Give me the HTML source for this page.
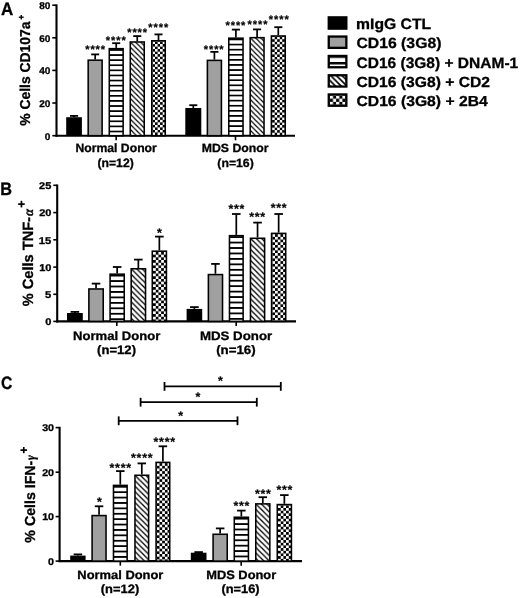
<!DOCTYPE html>
<html><head><meta charset="utf-8"><style>html,body{margin:0;padding:0;background:#fff;width:520px;height:598px;overflow:hidden}</style></head><body><svg width="520" height="598" viewBox="0 0 520 598" style="display:block;filter:grayscale(1)" text-rendering="geometricPrecision"><defs><pattern id="p1" patternUnits="userSpaceOnUse" x="110.05" y="49.12" width="40" height="5.096"><rect width="40" height="5.096" fill="#fff"/><rect width="40" height="1.683" fill="#000"/></pattern><pattern id="p2" patternUnits="userSpaceOnUse" x="131.05" y="42.75" width="5.143" height="5.143"><rect width="5.143" height="5.143" fill="#fff"/><path d="M-1,-1 L6.143,6.143 M-6.143,-1 L1,6.143 M4.143,-1 L11.285,6.143" stroke="#000" stroke-width="1.216"/></pattern><pattern id="p3" patternUnits="userSpaceOnUse" x="152.55" y="41.55" width="5.049" height="5.049"><rect width="5.049" height="5.049" fill="#fff"/><rect x="2.525" width="2.525" height="2.525" fill="#000"/><rect y="2.525" width="2.525" height="2.525" fill="#000"/></pattern><pattern id="p4" patternUnits="userSpaceOnUse" x="229.55" y="38.62" width="40" height="5.096"><rect width="40" height="5.096" fill="#fff"/><rect width="40" height="1.683" fill="#000"/></pattern><pattern id="p5" patternUnits="userSpaceOnUse" x="250.95" y="38.45" width="5.143" height="5.143"><rect width="5.143" height="5.143" fill="#fff"/><path d="M-1,-1 L6.143,6.143 M-6.143,-1 L1,6.143 M4.143,-1 L11.285,6.143" stroke="#000" stroke-width="1.216"/></pattern><pattern id="p6" patternUnits="userSpaceOnUse" x="272.15" y="36.75" width="5.049" height="5.049"><rect width="5.049" height="5.049" fill="#fff"/><rect x="2.525" width="2.525" height="2.525" fill="#000"/><rect y="2.525" width="2.525" height="2.525" fill="#000"/></pattern><pattern id="p7" patternUnits="userSpaceOnUse" x="110.85" y="274.70" width="40" height="5.450"><rect width="40" height="5.450" fill="#fff"/><rect width="40" height="1.800" fill="#000"/></pattern><pattern id="p8" patternUnits="userSpaceOnUse" x="131.95" y="269.55" width="5.500" height="5.500"><rect width="5.500" height="5.500" fill="#fff"/><path d="M-1,-1 L6.500,6.500 M-6.500,-1 L1,6.500 M4.500,-1 L12.000,6.500" stroke="#000" stroke-width="1.300"/></pattern><pattern id="p9" patternUnits="userSpaceOnUse" x="153.05" y="251.95" width="5.400" height="5.400"><rect width="5.400" height="5.400" fill="#fff"/><rect x="2.700" width="2.700" height="2.700" fill="#000"/><rect y="2.700" width="2.700" height="2.700" fill="#000"/></pattern><pattern id="p10" patternUnits="userSpaceOnUse" x="230.25" y="236.20" width="40" height="5.450"><rect width="40" height="5.450" fill="#fff"/><rect width="40" height="1.800" fill="#000"/></pattern><pattern id="p11" patternUnits="userSpaceOnUse" x="251.25" y="239.05" width="5.500" height="5.500"><rect width="5.500" height="5.500" fill="#fff"/><path d="M-1,-1 L6.500,6.500 M-6.500,-1 L1,6.500 M4.500,-1 L12.000,6.500" stroke="#000" stroke-width="1.300"/></pattern><pattern id="p12" patternUnits="userSpaceOnUse" x="272.35" y="234.15" width="5.400" height="5.400"><rect width="5.400" height="5.400" fill="#fff"/><rect x="2.700" width="2.700" height="2.700" fill="#000"/><rect y="2.700" width="2.700" height="2.700" fill="#000"/></pattern><pattern id="p13" patternUnits="userSpaceOnUse" x="114.25" y="485.89" width="40" height="5.396"><rect width="40" height="5.396" fill="#fff"/><rect width="40" height="1.782" fill="#000"/></pattern><pattern id="p14" patternUnits="userSpaceOnUse" x="135.75" y="476.05" width="5.445" height="5.445"><rect width="5.445" height="5.445" fill="#fff"/><path d="M-1,-1 L6.445,6.445 M-6.445,-1 L1,6.445 M4.445,-1 L11.890,6.445" stroke="#000" stroke-width="1.287"/></pattern><pattern id="p15" patternUnits="userSpaceOnUse" x="156.85" y="463.15" width="5.346" height="5.346"><rect width="5.346" height="5.346" fill="#fff"/><rect x="2.673" width="2.673" height="2.673" fill="#000"/><rect y="2.673" width="2.673" height="2.673" fill="#000"/></pattern><pattern id="p16" patternUnits="userSpaceOnUse" x="235.05" y="517.79" width="40" height="5.396"><rect width="40" height="5.396" fill="#fff"/><rect width="40" height="1.782" fill="#000"/></pattern><pattern id="p17" patternUnits="userSpaceOnUse" x="256.55" y="504.65" width="5.445" height="5.445"><rect width="5.445" height="5.445" fill="#fff"/><path d="M-1,-1 L6.445,6.445 M-6.445,-1 L1,6.445 M4.445,-1 L11.890,6.445" stroke="#000" stroke-width="1.287"/></pattern><pattern id="p18" patternUnits="userSpaceOnUse" x="278.05" y="505.35" width="5.346" height="5.346"><rect width="5.346" height="5.346" fill="#fff"/><rect x="2.673" width="2.673" height="2.673" fill="#000"/><rect y="2.673" width="2.673" height="2.673" fill="#000"/></pattern><pattern id="p19" patternUnits="userSpaceOnUse" x="327.6" y="55.50" width="40" height="6.500"><rect width="40" height="6.500" fill="#fff"/><rect width="40" height="2.400" fill="#000"/></pattern><pattern id="p20" patternUnits="userSpaceOnUse" x="331.50" y="76.40" width="5.700" height="5.700"><rect width="5.700" height="5.700" fill="#fff"/><path d="M-1,-1 L6.700,6.700 M-6.700,-1 L1,6.700 M4.700,-1 L12.400,6.700" stroke="#000" stroke-width="1.650"/></pattern><pattern id="p21" patternUnits="userSpaceOnUse" x="329.90" y="95.60" width="6.240" height="6.240"><rect width="6.240" height="6.240" fill="#fff"/><rect x="3.120" width="3.120" height="3.120" fill="#000"/><rect y="3.120" width="3.120" height="3.120" fill="#000"/></pattern></defs><rect width="520" height="598" fill="#fff"/><text transform="translate(0.93,14.60) scale(0.9503,1.0000)" font-family='"Liberation Sans", sans-serif' font-size="17.826" font-weight="bold" font-style="normal" fill="#000" stroke="#000" stroke-width="0.3">A</text><text transform="translate(0.29,194.50) scale(0.9004,1.0000)" font-family='"Liberation Sans", sans-serif' font-size="18.116" font-weight="bold" font-style="normal" fill="#000" stroke="#000" stroke-width="0.3">B</text><text transform="translate(0.92,388.52) scale(0.8749,1.0000)" font-family='"Liberation Sans", sans-serif' font-size="17.887" font-weight="bold" font-style="normal" fill="#000" stroke="#000" stroke-width="0.3">C</text><line x1="56.50" y1="4.40" x2="56.50" y2="136.70" stroke="#000" stroke-width="2.1"/><line x1="55.50" y1="135.70" x2="295.00" y2="135.70" stroke="#000" stroke-width="2.1"/><line x1="52.30" y1="5.20" x2="56.50" y2="5.20" stroke="#000" stroke-width="1.6"/><text transform="translate(39.14,9.20) scale(1.0200,1.0000)" font-family='"Liberation Sans", sans-serif' font-size="9.859" font-weight="bold" font-style="normal" fill="#000" stroke="#000" stroke-width="0.3">80</text><line x1="52.30" y1="37.80" x2="56.50" y2="37.80" stroke="#000" stroke-width="1.6"/><text transform="translate(39.14,41.80) scale(1.0200,1.0000)" font-family='"Liberation Sans", sans-serif' font-size="9.859" font-weight="bold" font-style="normal" fill="#000" stroke="#000" stroke-width="0.3">60</text><line x1="52.30" y1="70.40" x2="56.50" y2="70.40" stroke="#000" stroke-width="1.6"/><text transform="translate(39.14,74.40) scale(1.0200,1.0000)" font-family='"Liberation Sans", sans-serif' font-size="9.859" font-weight="bold" font-style="normal" fill="#000" stroke="#000" stroke-width="0.3">40</text><line x1="52.30" y1="103.00" x2="56.50" y2="103.00" stroke="#000" stroke-width="1.6"/><text transform="translate(39.14,107.00) scale(1.0200,1.0000)" font-family='"Liberation Sans", sans-serif' font-size="9.859" font-weight="bold" font-style="normal" fill="#000" stroke="#000" stroke-width="0.3">20</text><line x1="52.30" y1="135.70" x2="56.50" y2="135.70" stroke="#000" stroke-width="1.6"/><text transform="translate(44.72,139.70) scale(1.0200,1.0000)" font-family='"Liberation Sans", sans-serif' font-size="9.859" font-weight="bold" font-style="normal" fill="#000" stroke="#000" stroke-width="0.3">0</text><line x1="74.05" y1="117.20" x2="74.05" y2="115.90" stroke="#000" stroke-width="1.7"/><line x1="70.03" y1="115.90" x2="78.07" y2="115.90" stroke="#000" stroke-width="1.8"/><rect x="66.20" y="117.20" width="15.70" height="18.50" fill="#000"/><line x1="95.15" y1="59.40" x2="95.15" y2="54.40" stroke="#000" stroke-width="1.7"/><line x1="91.13" y1="54.40" x2="99.17" y2="54.40" stroke="#000" stroke-width="1.8"/><rect x="88.18" y="60.17" width="13.95" height="75.52" fill="#a0a0a0" stroke="#000" stroke-width="1.55"/><line x1="116.20" y1="47.90" x2="116.20" y2="43.20" stroke="#000" stroke-width="1.7"/><line x1="112.18" y1="43.20" x2="120.22" y2="43.20" stroke="#000" stroke-width="1.8"/><rect x="109.28" y="48.67" width="13.85" height="87.02" fill="url(#p1)" stroke="#000" stroke-width="1.55"/><line x1="137.25" y1="41.20" x2="137.25" y2="36.10" stroke="#000" stroke-width="1.7"/><line x1="133.23" y1="36.10" x2="141.27" y2="36.10" stroke="#000" stroke-width="1.8"/><rect x="130.28" y="41.98" width="13.95" height="93.72" fill="url(#p2)" stroke="#000" stroke-width="1.55"/><line x1="158.50" y1="40.00" x2="158.50" y2="34.40" stroke="#000" stroke-width="1.7"/><line x1="154.48" y1="34.40" x2="162.52" y2="34.40" stroke="#000" stroke-width="1.8"/><rect x="151.78" y="40.77" width="13.45" height="94.92" fill="url(#p3)" stroke="#000" stroke-width="1.55"/><line x1="193.30" y1="108.00" x2="193.30" y2="105.20" stroke="#000" stroke-width="1.7"/><line x1="189.28" y1="105.20" x2="197.32" y2="105.20" stroke="#000" stroke-width="1.8"/><rect x="185.30" y="108.00" width="16.00" height="27.70" fill="#000"/><line x1="214.40" y1="59.60" x2="214.40" y2="51.85" stroke="#000" stroke-width="1.7"/><line x1="210.38" y1="51.85" x2="218.42" y2="51.85" stroke="#000" stroke-width="1.8"/><rect x="207.38" y="60.38" width="14.05" height="75.32" fill="#a0a0a0" stroke="#000" stroke-width="1.55"/><line x1="235.90" y1="37.40" x2="235.90" y2="29.60" stroke="#000" stroke-width="1.7"/><line x1="231.88" y1="29.60" x2="239.92" y2="29.60" stroke="#000" stroke-width="1.8"/><rect x="228.78" y="38.17" width="14.25" height="97.52" fill="url(#p4)" stroke="#000" stroke-width="1.55"/><line x1="257.10" y1="36.90" x2="257.10" y2="29.40" stroke="#000" stroke-width="1.7"/><line x1="253.08" y1="29.40" x2="261.12" y2="29.40" stroke="#000" stroke-width="1.8"/><rect x="250.18" y="37.67" width="13.85" height="98.02" fill="url(#p5)" stroke="#000" stroke-width="1.55"/><line x1="278.30" y1="35.20" x2="278.30" y2="27.20" stroke="#000" stroke-width="1.7"/><line x1="274.28" y1="27.20" x2="282.32" y2="27.20" stroke="#000" stroke-width="1.8"/><rect x="271.38" y="35.98" width="13.85" height="99.72" fill="url(#p6)" stroke="#000" stroke-width="1.55"/><text x="85.21" y="53.01" font-family='"Liberation Sans", sans-serif' font-size="11.00" font-weight="bold" fill="#000" stroke="#000" stroke-width="0.2">*</text><text x="90.41" y="53.01" font-family='"Liberation Sans", sans-serif' font-size="11.00" font-weight="bold" fill="#000" stroke="#000" stroke-width="0.2">*</text><text x="95.61" y="53.01" font-family='"Liberation Sans", sans-serif' font-size="11.00" font-weight="bold" fill="#000" stroke="#000" stroke-width="0.2">*</text><text x="100.81" y="53.01" font-family='"Liberation Sans", sans-serif' font-size="11.00" font-weight="bold" fill="#000" stroke="#000" stroke-width="0.2">*</text><text x="105.86" y="43.95" font-family='"Liberation Sans", sans-serif' font-size="11.00" font-weight="bold" fill="#000" stroke="#000" stroke-width="0.2">*</text><text x="111.06" y="43.95" font-family='"Liberation Sans", sans-serif' font-size="11.00" font-weight="bold" fill="#000" stroke="#000" stroke-width="0.2">*</text><text x="116.26" y="43.95" font-family='"Liberation Sans", sans-serif' font-size="11.00" font-weight="bold" fill="#000" stroke="#000" stroke-width="0.2">*</text><text x="121.45" y="43.95" font-family='"Liberation Sans", sans-serif' font-size="11.00" font-weight="bold" fill="#000" stroke="#000" stroke-width="0.2">*</text><text x="127.20" y="35.66" font-family='"Liberation Sans", sans-serif' font-size="11.00" font-weight="bold" fill="#000" stroke="#000" stroke-width="0.2">*</text><text x="132.40" y="35.66" font-family='"Liberation Sans", sans-serif' font-size="11.00" font-weight="bold" fill="#000" stroke="#000" stroke-width="0.2">*</text><text x="137.60" y="35.66" font-family='"Liberation Sans", sans-serif' font-size="11.00" font-weight="bold" fill="#000" stroke="#000" stroke-width="0.2">*</text><text x="142.80" y="35.66" font-family='"Liberation Sans", sans-serif' font-size="11.00" font-weight="bold" fill="#000" stroke="#000" stroke-width="0.2">*</text><text x="148.30" y="31.11" font-family='"Liberation Sans", sans-serif' font-size="11.00" font-weight="bold" fill="#000" stroke="#000" stroke-width="0.2">*</text><text x="153.50" y="31.11" font-family='"Liberation Sans", sans-serif' font-size="11.00" font-weight="bold" fill="#000" stroke="#000" stroke-width="0.2">*</text><text x="158.70" y="31.11" font-family='"Liberation Sans", sans-serif' font-size="11.00" font-weight="bold" fill="#000" stroke="#000" stroke-width="0.2">*</text><text x="163.90" y="31.11" font-family='"Liberation Sans", sans-serif' font-size="11.00" font-weight="bold" fill="#000" stroke="#000" stroke-width="0.2">*</text><text x="203.75" y="52.60" font-family='"Liberation Sans", sans-serif' font-size="11.00" font-weight="bold" fill="#000" stroke="#000" stroke-width="0.2">*</text><text x="208.95" y="52.60" font-family='"Liberation Sans", sans-serif' font-size="11.00" font-weight="bold" fill="#000" stroke="#000" stroke-width="0.2">*</text><text x="214.15" y="52.60" font-family='"Liberation Sans", sans-serif' font-size="11.00" font-weight="bold" fill="#000" stroke="#000" stroke-width="0.2">*</text><text x="219.35" y="52.60" font-family='"Liberation Sans", sans-serif' font-size="11.00" font-weight="bold" fill="#000" stroke="#000" stroke-width="0.2">*</text><text x="225.50" y="28.86" font-family='"Liberation Sans", sans-serif' font-size="11.00" font-weight="bold" fill="#000" stroke="#000" stroke-width="0.2">*</text><text x="230.70" y="28.86" font-family='"Liberation Sans", sans-serif' font-size="11.00" font-weight="bold" fill="#000" stroke="#000" stroke-width="0.2">*</text><text x="235.90" y="28.86" font-family='"Liberation Sans", sans-serif' font-size="11.00" font-weight="bold" fill="#000" stroke="#000" stroke-width="0.2">*</text><text x="241.10" y="28.86" font-family='"Liberation Sans", sans-serif' font-size="11.00" font-weight="bold" fill="#000" stroke="#000" stroke-width="0.2">*</text><text x="247.60" y="27.66" font-family='"Liberation Sans", sans-serif' font-size="11.00" font-weight="bold" fill="#000" stroke="#000" stroke-width="0.2">*</text><text x="252.80" y="27.66" font-family='"Liberation Sans", sans-serif' font-size="11.00" font-weight="bold" fill="#000" stroke="#000" stroke-width="0.2">*</text><text x="258.00" y="27.66" font-family='"Liberation Sans", sans-serif' font-size="11.00" font-weight="bold" fill="#000" stroke="#000" stroke-width="0.2">*</text><text x="263.21" y="27.66" font-family='"Liberation Sans", sans-serif' font-size="11.00" font-weight="bold" fill="#000" stroke="#000" stroke-width="0.2">*</text><text x="268.86" y="23.05" font-family='"Liberation Sans", sans-serif' font-size="11.00" font-weight="bold" fill="#000" stroke="#000" stroke-width="0.2">*</text><text x="274.06" y="23.05" font-family='"Liberation Sans", sans-serif' font-size="11.00" font-weight="bold" fill="#000" stroke="#000" stroke-width="0.2">*</text><text x="279.25" y="23.05" font-family='"Liberation Sans", sans-serif' font-size="11.00" font-weight="bold" fill="#000" stroke="#000" stroke-width="0.2">*</text><text x="284.46" y="23.05" font-family='"Liberation Sans", sans-serif' font-size="11.00" font-weight="bold" fill="#000" stroke="#000" stroke-width="0.2">*</text><line x1="116.20" y1="135.70" x2="116.20" y2="140.30" stroke="#000" stroke-width="1.6"/><line x1="235.50" y1="135.70" x2="235.50" y2="140.30" stroke="#000" stroke-width="1.6"/><text transform="translate(75.46,152.35) scale(1.0034,1.0000)" font-family='"Liberation Sans", sans-serif' font-size="12.174" font-weight="bold" font-style="normal" fill="#000" stroke="#000" stroke-width="0.3">Normal Donor</text><text transform="translate(97.48,167.10) scale(1.0034,1.0000)" font-family='"Liberation Sans", sans-serif' font-size="12.174" font-weight="bold" font-style="normal" fill="#000" stroke="#000" stroke-width="0.3">(n=12)</text><text transform="translate(201.75,152.35) scale(1.0320,1.0000)" font-family='"Liberation Sans", sans-serif' font-size="11.884" font-weight="bold" font-style="normal" fill="#000" stroke="#000" stroke-width="0.3">MDS Donor</text><text transform="translate(217.31,167.10) scale(1.0320,1.0000)" font-family='"Liberation Sans", sans-serif' font-size="11.884" font-weight="bold" font-style="normal" fill="#000" stroke="#000" stroke-width="0.3">(n=16)</text><text transform="translate(30.46,125.85) rotate(-90) scale(1.0000,1.0317)" font-family='"Liberation Sans", sans-serif' font-size="13.925" font-weight="bold" font-style="normal" fill="#000" stroke="#000" stroke-width="0.3">% Cells CD107a</text><line x1="18.80" y1="17.20" x2="23.70" y2="17.20" stroke="#000" stroke-width="1.35"/><line x1="21.25" y1="15.00" x2="21.25" y2="19.40" stroke="#000" stroke-width="1.35"/><line x1="57.20" y1="184.50" x2="57.20" y2="322.40" stroke="#000" stroke-width="2.1"/><line x1="56.20" y1="321.40" x2="296.00" y2="321.40" stroke="#000" stroke-width="2.1"/><line x1="53.30" y1="185.30" x2="57.20" y2="185.30" stroke="#000" stroke-width="1.6"/><text transform="translate(39.02,189.00) scale(1.1200,1.0000)" font-family='"Liberation Sans", sans-serif' font-size="9.859" font-weight="bold" font-style="normal" fill="#000" stroke="#000" stroke-width="0.3">25</text><line x1="53.30" y1="212.60" x2="57.20" y2="212.60" stroke="#000" stroke-width="1.6"/><text transform="translate(39.18,216.30) scale(1.1200,1.0000)" font-family='"Liberation Sans", sans-serif' font-size="9.859" font-weight="bold" font-style="normal" fill="#000" stroke="#000" stroke-width="0.3">20</text><line x1="53.30" y1="239.80" x2="57.20" y2="239.80" stroke="#000" stroke-width="1.6"/><text transform="translate(38.85,243.50) scale(1.1200,1.0000)" font-family='"Liberation Sans", sans-serif' font-size="10.000" font-weight="bold" font-style="normal" fill="#000" stroke="#000" stroke-width="0.3">15</text><line x1="53.30" y1="267.10" x2="57.20" y2="267.10" stroke="#000" stroke-width="1.6"/><text transform="translate(39.18,270.80) scale(1.1200,1.0000)" font-family='"Liberation Sans", sans-serif' font-size="9.859" font-weight="bold" font-style="normal" fill="#000" stroke="#000" stroke-width="0.3">10</text><line x1="53.30" y1="294.30" x2="57.20" y2="294.30" stroke="#000" stroke-width="1.6"/><text transform="translate(45.06,298.00) scale(1.1200,1.0000)" font-family='"Liberation Sans", sans-serif' font-size="10.000" font-weight="bold" font-style="normal" fill="#000" stroke="#000" stroke-width="0.3">5</text><line x1="53.30" y1="321.40" x2="57.20" y2="321.40" stroke="#000" stroke-width="1.6"/><text transform="translate(45.31,325.10) scale(1.1200,1.0000)" font-family='"Liberation Sans", sans-serif' font-size="9.859" font-weight="bold" font-style="normal" fill="#000" stroke="#000" stroke-width="0.3">0</text><line x1="74.90" y1="313.00" x2="74.90" y2="311.90" stroke="#000" stroke-width="1.7"/><line x1="70.60" y1="311.90" x2="79.20" y2="311.90" stroke="#000" stroke-width="1.8"/><rect x="67.00" y="313.00" width="15.80" height="8.40" fill="#000"/><line x1="96.05" y1="288.20" x2="96.05" y2="283.60" stroke="#000" stroke-width="1.7"/><line x1="91.75" y1="283.60" x2="100.35" y2="283.60" stroke="#000" stroke-width="1.8"/><rect x="88.88" y="288.97" width="14.35" height="32.42" fill="#a0a0a0" stroke="#000" stroke-width="1.55"/><line x1="117.15" y1="273.40" x2="117.15" y2="267.00" stroke="#000" stroke-width="1.7"/><line x1="112.85" y1="267.00" x2="121.45" y2="267.00" stroke="#000" stroke-width="1.8"/><rect x="110.08" y="274.17" width="14.15" height="47.23" fill="url(#p7)" stroke="#000" stroke-width="1.55"/><line x1="138.35" y1="268.00" x2="138.35" y2="259.60" stroke="#000" stroke-width="1.7"/><line x1="134.05" y1="259.60" x2="142.65" y2="259.60" stroke="#000" stroke-width="1.8"/><rect x="131.18" y="268.77" width="14.35" height="52.62" fill="url(#p8)" stroke="#000" stroke-width="1.55"/><line x1="159.35" y1="250.40" x2="159.35" y2="236.60" stroke="#000" stroke-width="1.7"/><line x1="155.05" y1="236.60" x2="163.65" y2="236.60" stroke="#000" stroke-width="1.8"/><rect x="152.28" y="251.18" width="14.15" height="70.22" fill="url(#p9)" stroke="#000" stroke-width="1.55"/><line x1="194.40" y1="308.90" x2="194.40" y2="307.10" stroke="#000" stroke-width="1.7"/><line x1="190.10" y1="307.10" x2="198.70" y2="307.10" stroke="#000" stroke-width="1.8"/><rect x="186.60" y="308.90" width="15.60" height="12.50" fill="#000"/><line x1="215.45" y1="273.80" x2="215.45" y2="263.90" stroke="#000" stroke-width="1.7"/><line x1="211.15" y1="263.90" x2="219.75" y2="263.90" stroke="#000" stroke-width="1.8"/><rect x="208.38" y="274.57" width="14.15" height="46.82" fill="#a0a0a0" stroke="#000" stroke-width="1.55"/><line x1="236.30" y1="234.90" x2="236.30" y2="214.00" stroke="#000" stroke-width="1.7"/><line x1="232.00" y1="214.00" x2="240.60" y2="214.00" stroke="#000" stroke-width="1.8"/><rect x="229.47" y="235.68" width="13.65" height="85.72" fill="url(#p10)" stroke="#000" stroke-width="1.55"/><line x1="257.55" y1="237.50" x2="257.55" y2="222.60" stroke="#000" stroke-width="1.7"/><line x1="253.25" y1="222.60" x2="261.85" y2="222.60" stroke="#000" stroke-width="1.8"/><rect x="250.47" y="238.28" width="14.15" height="83.12" fill="url(#p11)" stroke="#000" stroke-width="1.55"/><line x1="278.65" y1="232.60" x2="278.65" y2="214.00" stroke="#000" stroke-width="1.7"/><line x1="274.35" y1="214.00" x2="282.95" y2="214.00" stroke="#000" stroke-width="1.8"/><rect x="271.57" y="233.38" width="14.15" height="88.02" fill="url(#p12)" stroke="#000" stroke-width="1.55"/><text x="156.98" y="237.06" font-family='"Liberation Sans", sans-serif' font-size="12.40" font-weight="bold" fill="#000" stroke="#000" stroke-width="0.2">*</text><text x="228.58" y="212.71" font-family='"Liberation Sans", sans-serif' font-size="12.40" font-weight="bold" fill="#000" stroke="#000" stroke-width="0.2">*</text><text x="234.08" y="212.71" font-family='"Liberation Sans", sans-serif' font-size="12.40" font-weight="bold" fill="#000" stroke="#000" stroke-width="0.2">*</text><text x="239.58" y="212.71" font-family='"Liberation Sans", sans-serif' font-size="12.40" font-weight="bold" fill="#000" stroke="#000" stroke-width="0.2">*</text><text x="249.33" y="220.86" font-family='"Liberation Sans", sans-serif' font-size="12.40" font-weight="bold" fill="#000" stroke="#000" stroke-width="0.2">*</text><text x="254.83" y="220.86" font-family='"Liberation Sans", sans-serif' font-size="12.40" font-weight="bold" fill="#000" stroke="#000" stroke-width="0.2">*</text><text x="260.33" y="220.86" font-family='"Liberation Sans", sans-serif' font-size="12.40" font-weight="bold" fill="#000" stroke="#000" stroke-width="0.2">*</text><text x="270.68" y="211.61" font-family='"Liberation Sans", sans-serif' font-size="12.40" font-weight="bold" fill="#000" stroke="#000" stroke-width="0.2">*</text><text x="276.18" y="211.61" font-family='"Liberation Sans", sans-serif' font-size="12.40" font-weight="bold" fill="#000" stroke="#000" stroke-width="0.2">*</text><text x="281.68" y="211.61" font-family='"Liberation Sans", sans-serif' font-size="12.40" font-weight="bold" fill="#000" stroke="#000" stroke-width="0.2">*</text><line x1="116.80" y1="321.40" x2="116.80" y2="326.00" stroke="#000" stroke-width="1.6"/><line x1="236.20" y1="321.40" x2="236.20" y2="326.00" stroke="#000" stroke-width="1.6"/><text transform="translate(73.10,339.85) scale(1.0631,1.0000)" font-family='"Liberation Sans", sans-serif' font-size="12.319" font-weight="bold" font-style="normal" fill="#000" stroke="#000" stroke-width="0.3">Normal Donor</text><text transform="translate(97.12,353.90) scale(1.0631,1.0000)" font-family='"Liberation Sans", sans-serif' font-size="12.319" font-weight="bold" font-style="normal" fill="#000" stroke="#000" stroke-width="0.3">(n=12)</text><text transform="translate(199.88,339.85) scale(1.0803,1.0000)" font-family='"Liberation Sans", sans-serif' font-size="12.319" font-weight="bold" font-style="normal" fill="#000" stroke="#000" stroke-width="0.3">MDS Donor</text><text transform="translate(216.15,353.90) scale(1.0803,1.0000)" font-family='"Liberation Sans", sans-serif' font-size="12.319" font-weight="bold" font-style="normal" fill="#000" stroke="#000" stroke-width="0.3">(n=16)</text><text transform="translate(32.55,306.22) rotate(-90) scale(1.0000,1.0127)" font-family='"Liberation Sans", sans-serif' font-size="14.603" font-weight="bold" font-style="normal" fill="#000" stroke="#000" stroke-width="0.3">% Cells TNF-</text><line x1="18.15" y1="204.10" x2="24.75" y2="204.10" stroke="#000" stroke-width="1.7"/><line x1="21.45" y1="200.80" x2="21.45" y2="207.40" stroke="#000" stroke-width="1.7"/><text transform="translate(32.96,215.89) rotate(-90) scale(1.0000,1.0804)" font-family='"Liberation Serif", serif' font-size="12.727" font-weight="bold" font-style="italic" fill="#000" stroke="#000" stroke-width="0.3">α</text><line x1="59.60" y1="426.80" x2="59.60" y2="562.10" stroke="#000" stroke-width="2.1"/><line x1="58.60" y1="561.10" x2="302.00" y2="561.10" stroke="#000" stroke-width="2.1"/><line x1="55.60" y1="427.60" x2="59.60" y2="427.60" stroke="#000" stroke-width="1.6"/><text transform="translate(42.16,431.30) scale(1.1000,1.0000)" font-family='"Liberation Sans", sans-serif' font-size="9.718" font-weight="bold" font-style="normal" fill="#000" stroke="#000" stroke-width="0.3">30</text><line x1="55.60" y1="472.20" x2="59.60" y2="472.20" stroke="#000" stroke-width="1.6"/><text transform="translate(42.16,475.90) scale(1.1000,1.0000)" font-family='"Liberation Sans", sans-serif' font-size="9.718" font-weight="bold" font-style="normal" fill="#000" stroke="#000" stroke-width="0.3">20</text><line x1="55.60" y1="516.60" x2="59.60" y2="516.60" stroke="#000" stroke-width="1.6"/><text transform="translate(42.16,520.30) scale(1.1000,1.0000)" font-family='"Liberation Sans", sans-serif' font-size="9.718" font-weight="bold" font-style="normal" fill="#000" stroke="#000" stroke-width="0.3">10</text><line x1="55.60" y1="561.10" x2="59.60" y2="561.10" stroke="#000" stroke-width="1.6"/><text transform="translate(48.09,564.80) scale(1.1000,1.0000)" font-family='"Liberation Sans", sans-serif' font-size="9.718" font-weight="bold" font-style="normal" fill="#000" stroke="#000" stroke-width="0.3">0</text><line x1="77.90" y1="555.60" x2="77.90" y2="554.40" stroke="#000" stroke-width="1.7"/><line x1="73.64" y1="554.40" x2="82.16" y2="554.40" stroke="#000" stroke-width="1.8"/><rect x="70.20" y="555.60" width="15.40" height="5.50" fill="#000"/><line x1="99.05" y1="514.80" x2="99.05" y2="506.30" stroke="#000" stroke-width="1.7"/><line x1="94.79" y1="506.30" x2="103.31" y2="506.30" stroke="#000" stroke-width="1.8"/><rect x="92.08" y="515.57" width="13.95" height="45.53" fill="#a0a0a0" stroke="#000" stroke-width="1.55"/><line x1="120.30" y1="484.60" x2="120.30" y2="471.10" stroke="#000" stroke-width="1.7"/><line x1="116.04" y1="471.10" x2="124.56" y2="471.10" stroke="#000" stroke-width="1.8"/><rect x="113.48" y="485.38" width="13.65" height="75.72" fill="url(#p13)" stroke="#000" stroke-width="1.55"/><line x1="141.80" y1="474.50" x2="141.80" y2="463.40" stroke="#000" stroke-width="1.7"/><line x1="137.54" y1="463.40" x2="146.06" y2="463.40" stroke="#000" stroke-width="1.8"/><rect x="134.97" y="475.27" width="13.65" height="85.83" fill="url(#p14)" stroke="#000" stroke-width="1.55"/><line x1="162.90" y1="461.60" x2="162.90" y2="446.30" stroke="#000" stroke-width="1.7"/><line x1="158.64" y1="446.30" x2="167.16" y2="446.30" stroke="#000" stroke-width="1.8"/><rect x="156.08" y="462.38" width="13.65" height="98.72" fill="url(#p15)" stroke="#000" stroke-width="1.55"/><line x1="198.65" y1="552.70" x2="198.65" y2="552.10" stroke="#000" stroke-width="1.7"/><line x1="194.39" y1="552.10" x2="202.91" y2="552.10" stroke="#000" stroke-width="1.8"/><rect x="190.80" y="552.70" width="15.70" height="8.40" fill="#000"/><line x1="220.15" y1="533.50" x2="220.15" y2="528.40" stroke="#000" stroke-width="1.7"/><line x1="215.89" y1="528.40" x2="224.41" y2="528.40" stroke="#000" stroke-width="1.8"/><rect x="213.08" y="534.27" width="14.15" height="26.83" fill="#a0a0a0" stroke="#000" stroke-width="1.55"/><line x1="241.35" y1="516.50" x2="241.35" y2="510.60" stroke="#000" stroke-width="1.7"/><line x1="237.09" y1="510.60" x2="245.61" y2="510.60" stroke="#000" stroke-width="1.8"/><rect x="234.28" y="517.27" width="14.15" height="43.83" fill="url(#p16)" stroke="#000" stroke-width="1.55"/><line x1="262.80" y1="503.10" x2="262.80" y2="497.20" stroke="#000" stroke-width="1.7"/><line x1="258.54" y1="497.20" x2="267.06" y2="497.20" stroke="#000" stroke-width="1.8"/><rect x="255.78" y="503.88" width="14.05" height="57.23" fill="url(#p17)" stroke="#000" stroke-width="1.55"/><line x1="284.35" y1="503.80" x2="284.35" y2="495.10" stroke="#000" stroke-width="1.7"/><line x1="280.09" y1="495.10" x2="288.61" y2="495.10" stroke="#000" stroke-width="1.8"/><rect x="277.27" y="504.57" width="14.15" height="56.53" fill="url(#p18)" stroke="#000" stroke-width="1.55"/><text x="96.88" y="506.26" font-family='"Liberation Sans", sans-serif' font-size="12.40" font-weight="bold" fill="#000" stroke="#000" stroke-width="0.2">*</text><text x="109.48" y="471.96" font-family='"Liberation Sans", sans-serif' font-size="12.40" font-weight="bold" fill="#000" stroke="#000" stroke-width="0.2">*</text><text x="115.08" y="471.96" font-family='"Liberation Sans", sans-serif' font-size="12.40" font-weight="bold" fill="#000" stroke="#000" stroke-width="0.2">*</text><text x="120.68" y="471.96" font-family='"Liberation Sans", sans-serif' font-size="12.40" font-weight="bold" fill="#000" stroke="#000" stroke-width="0.2">*</text><text x="126.28" y="471.96" font-family='"Liberation Sans", sans-serif' font-size="12.40" font-weight="bold" fill="#000" stroke="#000" stroke-width="0.2">*</text><text x="130.98" y="461.96" font-family='"Liberation Sans", sans-serif' font-size="12.40" font-weight="bold" fill="#000" stroke="#000" stroke-width="0.2">*</text><text x="136.58" y="461.96" font-family='"Liberation Sans", sans-serif' font-size="12.40" font-weight="bold" fill="#000" stroke="#000" stroke-width="0.2">*</text><text x="142.18" y="461.96" font-family='"Liberation Sans", sans-serif' font-size="12.40" font-weight="bold" fill="#000" stroke="#000" stroke-width="0.2">*</text><text x="147.78" y="461.96" font-family='"Liberation Sans", sans-serif' font-size="12.40" font-weight="bold" fill="#000" stroke="#000" stroke-width="0.2">*</text><text x="153.48" y="446.31" font-family='"Liberation Sans", sans-serif' font-size="12.40" font-weight="bold" fill="#000" stroke="#000" stroke-width="0.2">*</text><text x="159.08" y="446.31" font-family='"Liberation Sans", sans-serif' font-size="12.40" font-weight="bold" fill="#000" stroke="#000" stroke-width="0.2">*</text><text x="164.68" y="446.31" font-family='"Liberation Sans", sans-serif' font-size="12.40" font-weight="bold" fill="#000" stroke="#000" stroke-width="0.2">*</text><text x="170.28" y="446.31" font-family='"Liberation Sans", sans-serif' font-size="12.40" font-weight="bold" fill="#000" stroke="#000" stroke-width="0.2">*</text><text x="233.43" y="509.66" font-family='"Liberation Sans", sans-serif' font-size="12.40" font-weight="bold" fill="#000" stroke="#000" stroke-width="0.2">*</text><text x="238.93" y="509.66" font-family='"Liberation Sans", sans-serif' font-size="12.40" font-weight="bold" fill="#000" stroke="#000" stroke-width="0.2">*</text><text x="244.43" y="509.66" font-family='"Liberation Sans", sans-serif' font-size="12.40" font-weight="bold" fill="#000" stroke="#000" stroke-width="0.2">*</text><text x="254.88" y="497.56" font-family='"Liberation Sans", sans-serif' font-size="12.40" font-weight="bold" fill="#000" stroke="#000" stroke-width="0.2">*</text><text x="260.38" y="497.56" font-family='"Liberation Sans", sans-serif' font-size="12.40" font-weight="bold" fill="#000" stroke="#000" stroke-width="0.2">*</text><text x="265.88" y="497.56" font-family='"Liberation Sans", sans-serif' font-size="12.40" font-weight="bold" fill="#000" stroke="#000" stroke-width="0.2">*</text><text x="276.43" y="493.56" font-family='"Liberation Sans", sans-serif' font-size="12.40" font-weight="bold" fill="#000" stroke="#000" stroke-width="0.2">*</text><text x="281.93" y="493.56" font-family='"Liberation Sans", sans-serif' font-size="12.40" font-weight="bold" fill="#000" stroke="#000" stroke-width="0.2">*</text><text x="287.43" y="493.56" font-family='"Liberation Sans", sans-serif' font-size="12.40" font-weight="bold" fill="#000" stroke="#000" stroke-width="0.2">*</text><line x1="120.30" y1="561.10" x2="120.30" y2="565.70" stroke="#000" stroke-width="1.6"/><line x1="241.20" y1="561.10" x2="241.20" y2="565.70" stroke="#000" stroke-width="1.6"/><text transform="translate(77.31,578.85) scale(1.0620,1.0000)" font-family='"Liberation Sans", sans-serif' font-size="12.174" font-weight="bold" font-style="normal" fill="#000" stroke="#000" stroke-width="0.3">Normal Donor</text><text transform="translate(100.82,592.90) scale(1.0620,1.0000)" font-family='"Liberation Sans", sans-serif' font-size="12.174" font-weight="bold" font-style="normal" fill="#000" stroke="#000" stroke-width="0.3">(n=12)</text><text transform="translate(206.21,578.85) scale(1.0580,1.0000)" font-family='"Liberation Sans", sans-serif' font-size="12.174" font-weight="bold" font-style="normal" fill="#000" stroke="#000" stroke-width="0.3">MDS Donor</text><text transform="translate(221.39,592.90) scale(1.0580,1.0000)" font-family='"Liberation Sans", sans-serif' font-size="12.174" font-weight="bold" font-style="normal" fill="#000" stroke="#000" stroke-width="0.3">(n=16)</text><line x1="118.70" y1="420.80" x2="237.50" y2="420.80" stroke="#000" stroke-width="1.8"/><line x1="118.70" y1="416.40" x2="118.70" y2="425.20" stroke="#000" stroke-width="1.8"/><line x1="237.50" y1="416.40" x2="237.50" y2="425.20" stroke="#000" stroke-width="1.8"/><text x="178.18" y="419.56" font-family='"Liberation Sans", sans-serif' font-size="12.40" font-weight="bold" fill="#000" stroke="#000" stroke-width="0.2">*</text><line x1="140.60" y1="402.20" x2="256.80" y2="402.20" stroke="#000" stroke-width="1.8"/><line x1="140.60" y1="397.80" x2="140.60" y2="406.60" stroke="#000" stroke-width="1.8"/><line x1="256.80" y1="397.80" x2="256.80" y2="406.60" stroke="#000" stroke-width="1.8"/><text x="195.48" y="401.06" font-family='"Liberation Sans", sans-serif' font-size="12.40" font-weight="bold" fill="#000" stroke="#000" stroke-width="0.2">*</text><line x1="164.50" y1="386.40" x2="280.80" y2="386.40" stroke="#000" stroke-width="1.8"/><line x1="164.50" y1="382.00" x2="164.50" y2="390.80" stroke="#000" stroke-width="1.8"/><line x1="280.80" y1="382.00" x2="280.80" y2="390.80" stroke="#000" stroke-width="1.8"/><text x="218.08" y="384.56" font-family='"Liberation Sans", sans-serif' font-size="12.40" font-weight="bold" fill="#000" stroke="#000" stroke-width="0.2">*</text><text transform="translate(35.25,542.65) rotate(-90) scale(1.0000,1.0223)" font-family='"Liberation Sans", sans-serif' font-size="14.191" font-weight="bold" font-style="normal" fill="#000" stroke="#000" stroke-width="0.3">% Cells IFN-</text><line x1="20.45" y1="450.10" x2="27.05" y2="450.10" stroke="#000" stroke-width="1.7"/><line x1="23.75" y1="447.00" x2="23.75" y2="453.20" stroke="#000" stroke-width="1.7"/><text transform="translate(35.40,460.06) rotate(-90) scale(1.0000,1.1760)" font-family='"Liberation Serif", serif' font-size="11.463" font-weight="bold" font-style="italic" fill="#000" stroke="#000" stroke-width="0.3">γ</text><rect x="327.60" y="16.20" width="19.90" height="13.60" fill="#000"/><text transform="translate(356.08,28.65) scale(1.0435,1.0000)" font-family='"Liberation Sans", sans-serif' font-size="15.070" font-weight="bold" font-style="normal" fill="#000" stroke="#000" stroke-width="0.3">mIgG CTL</text><rect x="328.75" y="36.55" width="17.60" height="11.30" fill="#a0a0a0" stroke="#000" stroke-width="2.3"/><text transform="translate(356.47,48.45) scale(1.0669,1.0000)" font-family='"Liberation Sans", sans-serif' font-size="14.789" font-weight="bold" font-style="normal" fill="#000" stroke="#000" stroke-width="0.3">CD16 (3G8)</text><rect x="328.75" y="55.95" width="17.60" height="11.30" fill="url(#p19)" stroke="#000" stroke-width="2.3"/><text transform="translate(356.48,67.75) scale(1.0304,1.0000)" font-family='"Liberation Sans", sans-serif' font-size="15.070" font-weight="bold" font-style="normal" fill="#000" stroke="#000" stroke-width="0.3">CD16 (3G8) + DNAM-1</text><rect x="328.75" y="75.25" width="17.60" height="11.30" fill="url(#p20)" stroke="#000" stroke-width="2.3"/><text transform="translate(356.47,87.05) scale(1.0705,1.0000)" font-family='"Liberation Sans", sans-serif' font-size="14.648" font-weight="bold" font-style="normal" fill="#000" stroke="#000" stroke-width="0.3">CD16 (3G8) + CD2</text><rect x="328.75" y="94.45" width="17.60" height="11.30" fill="url(#p21)" stroke="#000" stroke-width="2.3"/><text transform="translate(356.47,106.35) scale(1.0820,1.0000)" font-family='"Liberation Sans", sans-serif' font-size="14.507" font-weight="bold" font-style="normal" fill="#000" stroke="#000" stroke-width="0.3">CD16 (3G8) + 2B4</text></svg></body></html>
